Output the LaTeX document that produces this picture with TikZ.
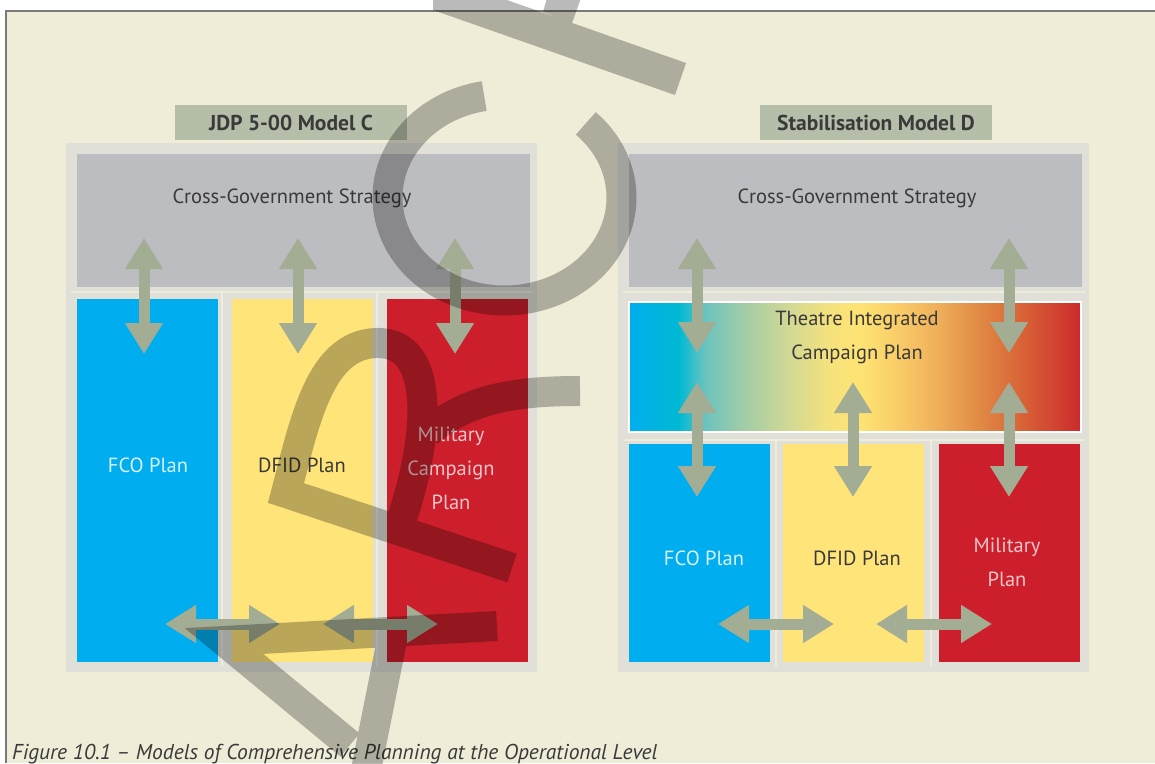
\documentclass[tikz,border=0pt]{standalone}
\usepackage{fontspec}
\setmainfont{PT Sans}
\usetikzlibrary{arrows.meta}
\definecolor{pagebg}{HTML}{EFEDD8}
\definecolor{framegray}{HTML}{7A7A7A}
\definecolor{panelgray}{HTML}{E0E0D8}
\definecolor{stratgray}{HTML}{BCBDC0}
\definecolor{titlegreen}{HTML}{B5BEA8}
\definecolor{arrowgreen}{HTML}{A2AD94}
\definecolor{fcoblue}{HTML}{00AEEF}
\definecolor{dfidyellow}{HTML}{FFE47A}
\definecolor{milred}{HTML}{CC1F2B}
\definecolor{sepline}{HTML}{EEEDDC}
\definecolor{darktext}{HTML}{3A3A3A}
\definecolor{fcotext}{HTML}{D8EFFA}
\definecolor{miltext}{HTML}{F4C4C9}
\definecolor{tcpa}{HTML}{00AEEF}
\definecolor{tcpb}{HTML}{00B9D3}
\definecolor{tcpc}{HTML}{6CC4BF}
\definecolor{tcpd}{HTML}{A0CCA8}
\definecolor{tcpe}{HTML}{D0D894}
\definecolor{tcpf}{HTML}{F6E27C}
\definecolor{tcpg}{HTML}{FEE372}
\definecolor{tcph}{HTML}{F8C866}
\definecolor{tcpi}{HTML}{EEAC58}
\definecolor{tcpj}{HTML}{E08844}
\definecolor{tcpk}{HTML}{D86036}
\definecolor{tcpl}{HTML}{CC2A2C}
\pgfdeclarehorizontalshading{tcpshade}{100bp}{color(0bp)=(tcpa); color(25bp)=(tcpa);
  color(30.5bp)=(tcpb); color(33.5bp)=(tcpc); color(37.5bp)=(tcpd); color(42.5bp)=(tcpe);
  color(47.25bp)=(tcpf); color(50.75bp)=(tcpg); color(55.5bp)=(tcph); color(59.5bp)=(tcpi);
  color(64bp)=(tcpj); color(68.75bp)=(tcpk); color(75bp)=(tcpl); color(100bp)=(tcpl)}

\begin{document}
\begin{tikzpicture}[x=1pt,y=-1pt,
    blk/.style={rectangle, inner sep=0pt, outer sep=0pt},
    panel/.style={blk, fill=panelgray, minimum width=471, minimum height=529},
    strat/.style={blk, fill=stratgray, minimum width=453, minimum height=133},
    title/.style={blk, fill=titlegreen, minimum width=232, minimum height=35,
      font=\fontsize{21.5}{24}\selectfont\bfseries, text=darktext},
    plan/.style={blk, minimum width=141},
    lbl/.style={font=\fontsize{20.5}{34}\selectfont, align=center, inner sep=0pt},
    sep/.style={draw=sepline, line width=2pt},
    dbl/.style={draw=arrowgreen, line width=11pt, {Triangle[length=31pt,width=36pt]}-{Triangle[length=31pt,width=36pt]}},
    wmark/.style={draw=black, draw opacity=0.27, line width=30pt},
    wfill/.style={fill=black, fill opacity=0.27}]
  \useasboundingbox (0,0) rectangle (1155,763);
  \fill[white] (0,0) rectangle (1155,763);
  \fill[pagebg] (6,11) rectangle (1155,763);
  \draw[framegray, line width=1.5pt] (1155,11) -- (6,11) -- (6,763);

  \node[title] (titleL) at (291,122.5) {JDP 5-00 Model C};
  \node[title] (titleR) at (876,122.5) {Stabilisation Model D};

  \node[panel] (panelL) at (301.5,407.5) {};
  \node[panel] (panelR) at (853.5,407.5) {};

  \node[strat] (stratL) at (303.5,220.5) {};
  \node[lbl, text=darktext] (stratLt) at (292,198) {Cross-Government Strategy};
  \node[strat] (stratR) at (855,220.5) {};
  \node[lbl, text=darktext] (stratRt) at (857,198) {Cross-Government Strategy};

  \draw[sep] (71,292) -- (533,292);
  \draw[sep] (222,292) -- (222,666);
  \draw[sep] (377,292) -- (377,666);
  \draw[sep] (623,292) -- (1085,292);
  \draw[sep] (623,440) -- (1085,440);
  \draw[sep] (776,440) -- (776,666);
  \draw[sep] (931,440) -- (931,666);

  \node[plan, fill=fcoblue, minimum height=363] (fcoL) at (147.5,480.5) {};
  \node[plan, fill=dfidyellow, minimum height=363] (dfidL) at (302.5,480.5) {};
  \node[plan, fill=milred, minimum height=363] (milL) at (457.5,480.5) {};
  \node[lbl, text=fcotext] (fcoLt) at (148,465) {FCO Plan};
  \node[lbl, text=darktext] (dfidLt) at (302,465) {DFID Plan};
  \node[lbl, text=miltext] (milLt) at (451,468) {Military\\Campaign\\Plan};

  \node[blk, shading=tcpshade, draw=white, line width=2pt, minimum width=452, minimum height=130] (tcp) at (855,367) {};
  \node[lbl, text=darktext] (tcpt) at (857,337) {Theatre Integrated\\Campaign Plan};

  \node[plan, fill=fcoblue, minimum height=218] (fcoR) at (699.5,553) {};
  \node[plan, fill=dfidyellow, minimum height=218] (dfidR) at (853.5,553) {};
  \node[plan, fill=milred, minimum height=218] (milR) at (1009.5,553) {};
  \node[lbl, text=fcotext] (fcoRt) at (704,558) {FCO Plan};
  \node[lbl, text=darktext] (dfidRt) at (857,558) {DFID Plan};
  \node[lbl, text=miltext] (milRt) at (1007,562) {Military\\Plan};

  \coordinate (aL1) at (144,238); \coordinate (bL1) at (144,354);
  \coordinate (aL2) at (298,238); \coordinate (bL2) at (298,354);
  \coordinate (aL3) at (455,238); \coordinate (bL3) at (455,354);
  \coordinate (hL1) at (165,624); \coordinate (kL1) at (280,624);
  \coordinate (hL2) at (323,624); \coordinate (kL2) at (438,624);
  \draw[dbl] (aL1) -- (bL1);
  \draw[dbl] (aL2) -- (bL2);
  \draw[dbl] (aL3) -- (bL3);
  \draw[dbl] (hL1) -- (kL1);
  \draw[dbl] (hL2) -- (kL2);

  \coordinate (aR1) at (697,238); \coordinate (bR1) at (697,353);
  \coordinate (aR3) at (1009,238); \coordinate (bR3) at (1009,353);
  \coordinate (cR1) at (697,382); \coordinate (dR1) at (697,497);
  \coordinate (cR2) at (853,382); \coordinate (dR2) at (853,497);
  \coordinate (cR3) at (1009,382); \coordinate (dR3) at (1009,497);
  \coordinate (hR1) at (718,624); \coordinate (kR1) at (834,624);
  \coordinate (hR2) at (876,624); \coordinate (kR2) at (992,624);
  \draw[dbl] (aR1) -- (bR1);
  \draw[dbl] (aR3) -- (bR3);
  \draw[dbl] (cR1) -- (dR1);
  \draw[dbl] (cR2) -- (dR2);
  \draw[dbl] (cR3) -- (dR3);
  \draw[dbl] (hR1) -- (kR1);
  \draw[dbl] (hR2) -- (kR2);

  \node[anchor=base west, inner sep=0pt, text=darktext, font=\fontsize{21.5}{24}\selectfont\itshape] (caption) at (12,759)
    {Figure 10.1 – Models of Comprehensive Planning at the Operational Level};

  \fill[wfill] (433,-26) -- (686,63) -- (675,95) -- (433,10) -- cycle
    (547,-2) -- (581,-2) -- (572,23) -- (543,12) -- cycle;
  \draw[wmark]
    (504.5,197.5) ++(-100:117 and 103) arc[start angle=-100, end angle=-406, x radius=117, y radius=103]
    (512,568) -- (286,493) .. controls (305,420) and (320,345) .. (376,343) .. controls (438,341) and (430,440) .. (398,530)
    (428,432) .. controls (470,397) and (520,391) .. (580,391)
    (497,626) -- (224,641) -- (350,745)
    (392,640) -- (366,770);
\end{tikzpicture}
\end{document}
